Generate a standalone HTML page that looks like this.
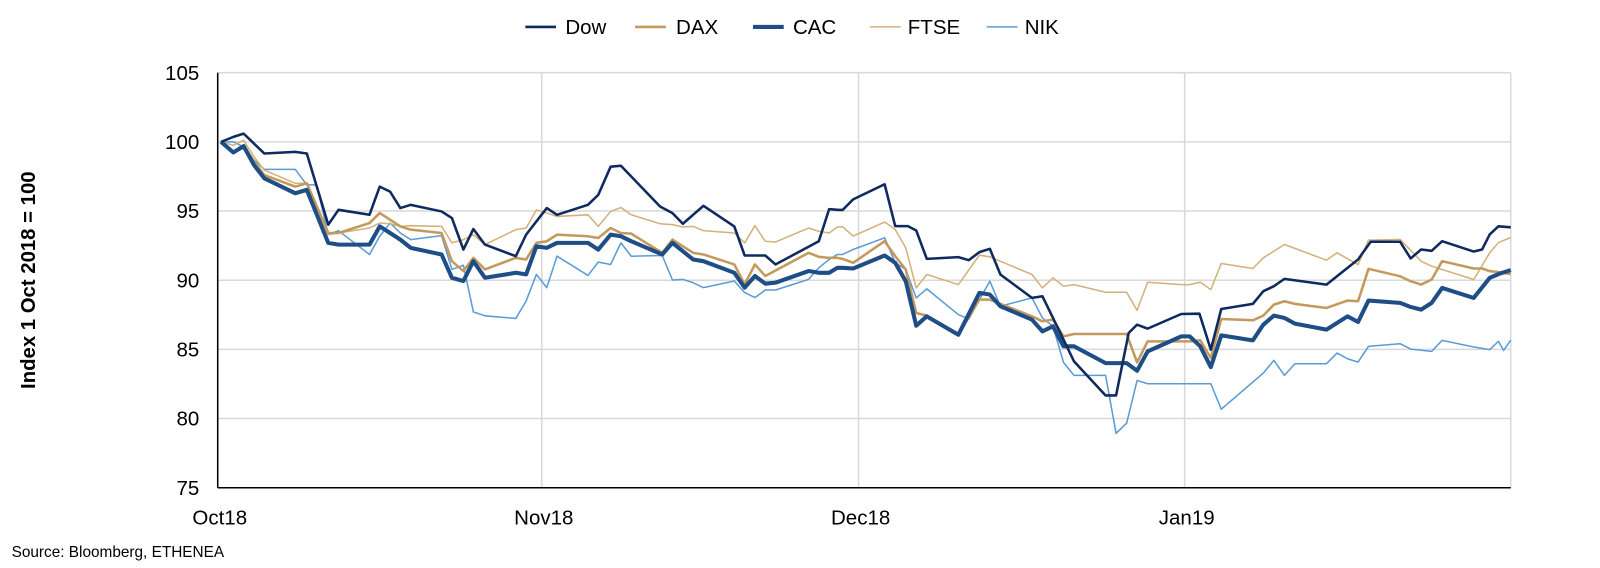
<!DOCTYPE html>
<html><head><meta charset="utf-8"><style>
body{margin:0;background:#fff}
svg{display:block}
text{font-family:"Liberation Sans",Arial,sans-serif}
</style></head><body>
<svg id="s" width="1600" height="568" xmlns="http://www.w3.org/2000/svg">
<g transform="matrix(1.0254,0,0,1.0172,-4.8,-0.54)">
<g stroke="#d9d9d9" stroke-width="1.5">
<line x1="217" y1="72" x2="1478" y2="72"/><line x1="217" y1="140" x2="1478" y2="140"/>
<line x1="217" y1="208" x2="1478" y2="208"/><line x1="217" y1="276" x2="1478" y2="276"/>
<line x1="217" y1="344" x2="1478" y2="344"/><line x1="217" y1="412" x2="1478" y2="412"/>
<line x1="533" y1="72" x2="533" y2="480"/><line x1="842" y1="72" x2="842" y2="480"/>
<line x1="1160" y1="72" x2="1160" y2="480"/><line x1="1478" y1="72" x2="1478" y2="480"/>
</g>
<g font-size="20" fill="#000" text-anchor="end">
<text x="199" y="79">105</text><text x="199" y="147">100</text><text x="199" y="215">95</text>
<text x="199" y="283">90</text><text x="199" y="351">85</text><text x="199" y="419">80</text><text x="199" y="487">75</text>
</g>
<g font-size="20" fill="#000" text-anchor="middle">
<text x="219" y="516">Oct18</text><text x="535" y="516">Nov18</text><text x="844" y="516">Dec18</text><text x="1162" y="516">Jan19</text>
</g>
<text x="39" y="276" font-size="20" font-weight="bold" text-anchor="middle" transform="rotate(-90 39 276)">Index 1 Oct 2018 = 100</text>
<text x="16" y="548" font-size="15">Source: Bloomberg, ETHENEA</text>
<g font-size="20">
<line x1="517" y1="27" x2="547" y2="27" stroke="#0f2a5e" stroke-width="2.5"/><text x="556" y="34">Dow</text>
<line x1="624" y1="27" x2="654" y2="27" stroke="#c49a5c" stroke-width="2.5"/><text x="664" y="34">DAX</text>
<line x1="739" y1="27" x2="769" y2="27" stroke="#1f4e86" stroke-width="4"/><text x="778" y="34">CAC</text>
<line x1="853" y1="27" x2="883" y2="27" stroke="#d4b07a" stroke-width="1.5"/><text x="890" y="34">FTSE</text>
<line x1="967" y1="27" x2="997" y2="27" stroke="#5b9bd5" stroke-width="1.5"/><text x="1004" y="34">NIK</text>
</g>
<g id="series" fill="none" stroke-linejoin="round"></g>
<line x1="217" y1="72" x2="217" y2="480" stroke="#000" stroke-width="1.5"/>
<line x1="217" y1="480" x2="1478" y2="480" stroke="#000" stroke-width="1.5"/>
</g>
</svg>
<script>
function m1(p){return[217+(p[0]-42)/2.487,140+(p[1]-65)/3.07];}
function m2(p){return[842+(p[0]-68)/2.437,208+(p[1]-125)/3.044];}
function build(a,b,tail){var pts=[];
a.forEach(function(p){if(p[0]<=1545)pts.push(m1(p));});
b.forEach(function(p){if(p[0]>=30)pts.push(m2(p));});
tail.forEach(function(p){pts.push(p);});
return pts.map(function(p){return p[0].toFixed(1)+","+p[1].toFixed(1)}).join(" ");}
var S={
NIK:{c:"#5b9bd5",w:1.5,a:[[50,65],[80,65],[105,80],[130,120],[155,148],[230,148],[258,195],[282,195],[310,345],[335,333],[410,405],[435,350],[460,310],[485,340],[510,360],[585,348],[610,450],[638,437],[662,578],[690,590],[765,598],[790,545],[815,465],[840,505],[865,410],[940,468],[965,428],[995,435],[1020,370],[1045,410],[1120,408],[1145,482],[1170,480],[1195,490],[1220,505],[1295,485],[1320,520],[1345,535],[1370,512],[1395,512],[1475,480],[1500,445],[1525,420],[1545,405]],
b:[[30,255],[55,240],[130,205],[155,280],[180,300],[205,385],[230,358],[305,435],[330,448],[355,390],[380,335],[405,410],[480,385],[505,445],[530,470],[555,578],[580,617],[655,617],[680,790],[705,760],[730,632],[755,642],[905,642],[930,718],[1030,610],[1055,572],[1080,617],[1105,582],[1180,582],[1205,550],[1230,567],[1255,577],[1280,530],[1355,522],[1380,538],[1430,545],[1455,512],[1530,532],[1568,540]],t:[[1466,336],[1471,345],[1478,335]]},
FTSE:{c:"#d4b07a",w:1.5,a:[[50,65],[80,75],[105,60],[130,110],[155,150],[230,190],[258,190],[310,345],[335,340],[410,325],[435,310],[460,312],[485,320],[510,318],[585,320],[610,370],[638,360],[662,345],[690,375],[765,330],[790,325],[815,270],[840,280],[865,290],[940,285],[965,320],[995,275],[1020,263],[1045,285],[1115,312],[1145,315],[1170,322],[1195,320],[1220,333],[1295,340],[1320,370],[1345,318],[1370,365],[1395,367],[1475,325],[1500,335],[1525,340],[1545,322]],
b:[[30,172],[55,200],[130,158],[155,180],[180,235],[205,355],[230,315],[305,345],[355,257],[380,262],[480,315],[505,355],[530,325],[555,350],[580,345],[655,368],[705,368],[730,422],[755,338],[835,345],[855,345],[880,338],[905,360],[930,282],[1005,297],[1030,265],[1080,225],[1180,272],[1205,250],[1255,285],[1280,212],[1355,210],[1405,275],[1430,290],[1530,330],[1568,250]],t:[[1466,239],[1478,234]]},
DAX:{c:"#c49a5c",w:2.5,a:[[50,65],[80,95],[105,75],[130,125],[155,165],[230,200],[258,190],[310,340],[335,340],[410,310],[435,280],[460,300],[485,320],[510,330],[585,340],[610,425],[638,455],[662,415],[690,450],[765,415],[790,420],[815,370],[840,365],[865,345],[940,350],[965,355],[995,325],[1020,340],[1045,342],[1120,400],[1145,360],[1195,400],[1220,405],[1295,435],[1320,495],[1345,435],[1370,470],[1475,400],[1500,412],[1525,415],[1545,415]],
b:[[30,268],[55,280],[130,215],[155,260],[180,300],[205,430],[230,438],[305,495],[355,390],[380,390],[480,440],[505,455],[530,450],[555,500],[580,493],[705,493],[730,578],[755,515],[855,515],[880,512],[905,565],[930,448],[1005,452],[1030,438],[1055,405],[1080,395],[1105,403],[1180,415],[1230,393],[1255,395],[1280,298],[1355,320],[1380,335],[1405,345],[1430,330],[1455,275],[1530,297],[1550,297],[1568,305]],t:[[1466,268],[1478,270]]},
CAC:{c:"#1f4e86",w:4,a:[[50,65],[80,97],[105,78],[130,135],[155,175],[230,220],[258,210],[310,370],[335,375],[410,375],[435,320],[460,340],[485,360],[510,385],[585,405],[610,475],[638,485],[662,425],[690,475],[765,460],[790,465],[815,380],[840,385],[865,370],[940,370],[965,390],[995,345],[1020,350],[1045,365],[1120,405],[1145,370],[1195,420],[1220,425],[1295,460],[1320,505],[1345,470],[1370,493],[1395,490],[1475,455],[1500,460],[1525,460],[1545,445]],
b:[[30,295],[55,297],[130,258],[155,280],[180,335],[205,468],[230,440],[305,495],[355,370],[380,375],[405,410],[480,450],[505,485],[530,470],[555,530],[580,530],[655,580],[705,580],[730,603],[755,545],[835,500],[855,500],[880,530],[905,592],[930,497],[1005,512],[1030,465],[1055,438],[1080,445],[1105,462],[1180,480],[1230,440],[1255,457],[1280,393],[1355,400],[1380,412],[1405,420],[1430,400],[1455,355],[1530,385],[1568,325]],t:[[1466,270],[1478,266]]},
Dow:{c:"#0f2a5e",w:2.5,a:[[50,65],[80,50],[105,40],[155,100],[230,95],[258,100],[310,315],[335,270],[410,285],[435,200],[460,215],[485,265],[510,255],[585,275],[610,295],[638,390],[662,328],[690,375],[765,410],[790,345],[840,265],[865,285],[940,255],[965,225],[995,140],[1020,137],[1115,260],[1145,280],[1170,312],[1220,258],[1295,320],[1320,408],[1370,408],[1395,435],[1500,365],[1525,268],[1545,270]],
b:[[30,122],[55,90],[130,45],[155,170],[185,170],[205,183],[230,268],[305,263],[330,272],[355,248],[380,238],[405,315],[480,385],[505,380],[530,445],[580,575],[655,677],[680,677],[710,490],[730,465],[755,477],[835,433],[878,432],[905,540],[930,418],[1005,403],[1030,365],[1055,350],[1080,328],[1180,345],[1255,270],[1285,217],[1355,217],[1380,267],[1405,240],[1430,244],[1455,215],[1530,246],[1550,240],[1568,195]],t:[[1466,223],[1478,224]]}
};
var g=document.getElementById("series"),ns="http://www.w3.org/2000/svg";
["NIK","FTSE","DAX","CAC","Dow"].forEach(function(k){var s=S[k];var p=document.createElementNS(ns,"polyline");
p.setAttribute("points",build(s.a,s.b,s.t));p.setAttribute("stroke",s.c);p.setAttribute("stroke-width",s.w);g.appendChild(p);});
</script>
</body></html>
